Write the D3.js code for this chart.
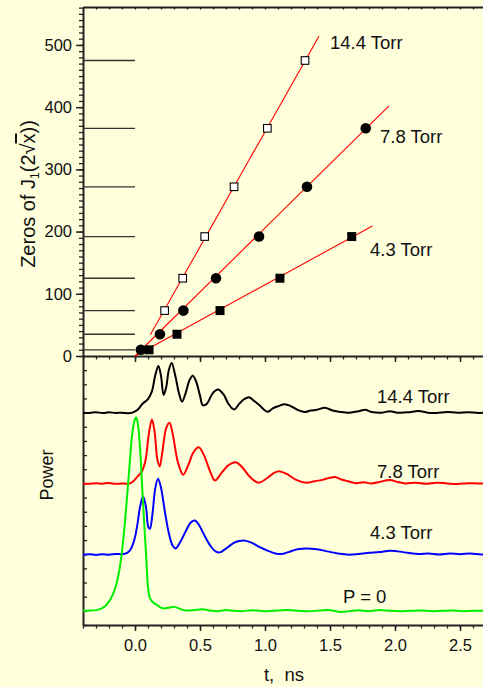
<!DOCTYPE html>
<html>
<head>
<meta charset="utf-8">
<script src="https://cdn.jsdelivr.net/npm/d3@7"></script>
<style>
  html, body { margin: 0; padding: 0; background: #ffffdc; }
  svg { display: block; font-family: "Liberation Sans", Arial, sans-serif; }
  .axis path, .axis line { stroke: #222; }
  .axis text { fill: #111; font-size: 16.5px; font-family: "Liberation Sans", Arial, sans-serif; }
</style>
</head>
<body>
<svg id="chart" width="483" height="687"></svg>
<script>
// ---- Upper panel: zeros of J1(2*sqrt(x)) versus time of the power maxima ----
const besselZeros = [10, 35, 73, 125, 192, 272, 366, 475];
const zeroTicks = [0, 100, 200, 300, 400, 500];

// time of each maximum (ns) paired with the zero index value
const peaks144 = [[0.228, 73], [0.367, 125], [0.536, 192], [0.762, 272], [1.018, 366], [1.308, 475]];
const peaks78 = [[0.045, 10], [0.192, 35], [0.372, 73], [0.623, 125], [0.954, 192], [1.323, 272], [1.775, 366]];
const peaks43 = [[0.108, 10], [0.323, 35], [0.654, 73], [1.115, 125], [1.667, 192]];

// straight-line fits through each pressure's maxima: [start, end]
const fit144 = [[0.118, 34], [1.415, 514]];
const fit78 = [[0.0, 0], [1.954, 402]];
const fit43 = [[0.0, 0], [1.826, 209]];

const upperLabels = ["14.4 Torr", "7.8 Torr", "4.3 Torr"];

// ---- Lower panel: transmitted power traces (arbitrary units, offset) ----
const timeTicks = [0, 0.5, 1.0, 1.5, 2.0, 2.5];

const power144 = [
  [-0.40, 15.0], [-0.35, 14.98], [-0.30, 15.03], [-0.25, 14.97], [-0.20, 15.02], [-0.15, 14.98],
  [-0.10, 15.0], [-0.05, 14.96], [-0.02, 15.0], [0.02, 15.2], [0.06, 15.65], [0.10, 15.95],
  [0.13, 16.5], [0.155, 17.6], [0.18, 18.3], [0.20, 17.6], [0.22, 16.25], [0.24, 16.8],
  [0.26, 18.0], [0.282, 18.5], [0.31, 17.6], [0.34, 16.3], [0.362, 15.77], [0.39, 16.4],
  [0.42, 17.3], [0.444, 17.6], [0.47, 17.2], [0.50, 16.2], [0.521, 15.53], [0.55, 15.6],
  [0.60, 16.4], [0.638, 16.64], [0.68, 16.3], [0.72, 15.6], [0.762, 15.22], [0.80, 15.6],
  [0.84, 15.95], [0.877, 16.08], [0.92, 15.8], [0.96, 15.5], [1.0, 15.15], [1.023, 15.06],
  [1.06, 15.3], [1.10, 15.45], [1.152, 15.6], [1.20, 15.45], [1.25, 15.2], [1.305, 15.04],
  [1.35, 15.15], [1.40, 15.2], [1.46, 15.34], [1.52, 15.15], [1.58, 15.05], [1.65, 15.0],
  [1.72, 15.1], [1.77, 15.2], [1.82, 15.05], [1.90, 15.0], [1.96, 15.1], [2.02, 15.0],
  [2.10, 15.02], [2.18, 15.12], [2.25, 15.0], [2.32, 14.98], [2.40, 15.05], [2.48, 15.0],
  [2.56, 15.03], [2.64, 14.98], [2.70, 15.0]
];

const power78 = [
  [-0.40, 10.0], [-0.35, 9.97], [-0.30, 10.02], [-0.25, 9.98], [-0.20, 10.03], [-0.15, 9.97],
  [-0.10, 10.0], [-0.05, 9.98], [-0.02, 10.1], [0.02, 10.5], [0.05, 10.8], [0.08, 11.6],
  [0.105, 13.4], [0.13, 14.52], [0.15, 13.7], [0.172, 11.7], [0.19, 11.2], [0.21, 12.2],
  [0.24, 13.9], [0.265, 14.28], [0.29, 13.5], [0.33, 11.5], [0.37, 10.62], [0.41, 11.3],
  [0.45, 12.2], [0.49, 12.55], [0.53, 12.0], [0.58, 10.8], [0.615, 10.21], [0.67, 10.8],
  [0.72, 11.3], [0.773, 11.5], [0.82, 11.2], [0.88, 10.5], [0.95, 10.05], [1.02, 10.4],
  [1.07, 10.75], [1.115, 10.85], [1.17, 10.65], [1.24, 10.25], [1.318, 10.05], [1.38, 10.15],
  [1.44, 10.25], [1.50, 10.4], [1.536, 10.45], [1.58, 10.3], [1.64, 10.15], [1.70, 10.02],
  [1.76, 10.08], [1.82, 10.0], [1.88, 10.1], [1.96, 10.25], [2.02, 10.1], [2.08, 10.0],
  [2.16, 10.05], [2.24, 9.98], [2.32, 10.05], [2.40, 10.0], [2.48, 9.96], [2.56, 10.02],
  [2.64, 10.0], [2.70, 10.0]
];

const power43 = [
  [-0.40, 4.97], [-0.35, 5.0], [-0.30, 4.95], [-0.25, 5.0], [-0.20, 4.97], [-0.15, 5.02],
  [-0.10, 5.0], [-0.06, 5.1], [-0.04, 5.25], [-0.02, 5.6], [0.0, 6.2], [0.02, 7.2],
  [0.04, 8.4], [0.062, 9.08], [0.085, 8.3], [0.103, 6.9], [0.115, 6.8], [0.135, 7.9],
  [0.155, 9.6], [0.177, 10.33], [0.20, 9.7], [0.23, 8.0], [0.26, 6.5], [0.29, 5.6],
  [0.313, 5.41], [0.35, 5.9], [0.40, 6.8], [0.43, 7.25], [0.459, 7.38], [0.49, 7.1],
  [0.53, 6.4], [0.58, 5.6], [0.62, 5.2], [0.652, 5.13], [0.70, 5.4], [0.76, 5.8],
  [0.80, 5.93], [0.844, 5.96], [0.90, 5.8], [0.96, 5.5], [1.02, 5.25], [1.08, 5.05],
  [1.126, 5.01], [1.18, 5.15], [1.25, 5.35], [1.318, 5.41], [1.40, 5.35], [1.48, 5.2],
  [1.56, 5.05], [1.65, 4.97], [1.72, 5.02], [1.80, 5.1], [1.88, 5.15], [1.96, 5.25],
  [2.02, 5.2], [2.10, 5.1], [2.18, 5.02], [2.26, 5.05], [2.34, 4.98], [2.42, 5.05],
  [2.50, 5.0], [2.58, 5.05], [2.66, 4.98], [2.70, 5.0]
];

const power0 = [
  [-0.40, 1.0], [-0.35, 1.02], [-0.30, 1.05], [-0.26, 1.15], [-0.223, 1.4], [-0.19, 1.8],
  [-0.16, 2.4], [-0.14, 3.0], [-0.12, 3.9], [-0.10, 5.2], [-0.08, 7.0], [-0.06, 9.2],
  [-0.04, 11.5], [-0.02, 13.6], [0.0, 14.55], [0.01, 14.66], [0.025, 14.0], [0.04, 12.3],
  [0.055, 9.8], [0.07, 7.3], [0.085, 5.0], [0.10, 2.7], [0.115, 1.9], [0.136, 1.62],
  [0.17, 1.4], [0.213, 1.18], [0.26, 1.22], [0.303, 1.28], [0.35, 1.12], [0.39, 1.03],
  [0.45, 1.05], [0.52, 1.12], [0.58, 1.02], [0.64, 0.98], [0.70, 1.06], [0.76, 1.0],
  [0.83, 0.98], [0.90, 1.05], [0.96, 1.0], [1.02, 0.97], [1.10, 1.02], [1.18, 1.06],
  [1.26, 1.0], [1.34, 0.97], [1.42, 1.02], [1.50, 1.05], [1.58, 0.92], [1.65, 0.98],
  [1.72, 1.04], [1.80, 0.98], [1.88, 1.06], [1.96, 1.0], [2.04, 0.97], [2.12, 1.0],
  [2.20, 1.02], [2.28, 0.98], [2.36, 1.0], [2.44, 1.02], [2.52, 0.98], [2.60, 1.0], [2.70, 1.0]
];

const lowerLabels = ["14.4 Torr", "7.8 Torr", "4.3 Torr", "P = 0"];

// ---- drawing ----
const svg = d3.select("#chart");
svg.append("rect").attr("width", 483).attr("height", 687).attr("fill", "#ffffdc");

const left = 83, topY = 7, midY = 356, bottomY = 625;

const x = d3.scaleLinear().domain([-0.4, 2.7]).range([left, left + 3.1 * 130]);
const yTop = d3.scaleLinear().domain([0, 561]).range([midY, topY]);
const yP = d3.scaleLinear().domain([0, 19]).range([bottomY, midY]);

const minorT = d3.range(-4, 28).map(i => i / 10);
const minorZ = d3.range(0, 57).map(i => i * 10);
const minorP = d3.range(0, 19);

// upper panel: left axis, minor then major ticks
svg.append("g").attr("class", "axis").attr("transform", `translate(${left},0)`)
  .call(d3.axisLeft(yTop).tickValues(minorZ).tickSize(4).tickSizeOuter(0).tickFormat(""))
  .call(g => g.selectAll("line").attr("stroke-width", 1.3))
  .call(g => g.select(".domain").attr("stroke-width", 2));
svg.append("g").attr("class", "axis").attr("transform", `translate(${left},0)`)
  .call(d3.axisLeft(yTop).tickValues(zeroTicks).tickSize(7).tickPadding(4).tickSizeOuter(0))
  .call(g => g.selectAll("line").attr("stroke-width", 1.5))
  .call(g => g.select(".domain").remove());

// top frame with small ticks
svg.append("g").attr("class", "axis").attr("transform", `translate(0,${topY})`)
  .call(d3.axisTop(x).tickValues(minorT).tickSize(-2.5).tickSizeOuter(0).tickFormat(""))
  .call(g => g.selectAll("line").attr("stroke-width", 1.3))
  .call(g => g.select(".domain").attr("stroke-width", 2));

// shared boundary between panels
svg.append("g").attr("class", "axis").attr("transform", `translate(0,${midY})`)
  .call(d3.axisBottom(x).tickValues(minorT).tickSize(3.5).tickSizeOuter(0).tickFormat(""))
  .call(g => g.selectAll("line").attr("stroke-width", 1.3))
  .call(g => g.select(".domain").attr("stroke-width", 2));
svg.append("g").attr("class", "axis").attr("transform", `translate(0,${midY})`)
  .call(d3.axisBottom(x).tickValues(timeTicks).tickSize(6).tickSizeOuter(0).tickFormat(""))
  .call(g => g.selectAll("line").attr("stroke-width", 1.5))
  .call(g => g.select(".domain").remove());

// lower panel: left axis with inward ticks
svg.append("g").attr("class", "axis").attr("transform", `translate(${left},0)`)
  .call(d3.axisRight(yP).tickValues(minorP).tickSize(4).tickSizeOuter(0).tickFormat(""))
  .call(g => g.selectAll("line").attr("stroke-width", 1.3))
  .call(g => g.select(".domain").attr("stroke-width", 2));

// lower panel: time axis
svg.append("g").attr("class", "axis").attr("transform", `translate(0,${bottomY})`)
  .call(d3.axisBottom(x).tickValues(minorT).tickSize(3.5).tickSizeOuter(0).tickFormat(""))
  .call(g => g.selectAll("line").attr("stroke-width", 1.3))
  .call(g => g.select(".domain").attr("stroke-width", 2));
svg.append("g").attr("class", "axis").attr("transform", `translate(0,${bottomY})`)
  .call(d3.axisBottom(x).tickValues(timeTicks).tickSize(6).tickPadding(8).tickSizeOuter(0)
    .tickFormat(d3.format(".1f")))
  .call(g => g.selectAll("line").attr("stroke-width", 1.5))
  .call(g => g.select(".domain").remove());

// reference levels at the Bessel zeros
svg.append("g").selectAll("line").data(besselZeros).join("line")
  .attr("x1", x(-0.4)).attr("x2", x(0))
  .attr("y1", d => yTop(d)).attr("y2", d => yTop(d))
  .attr("stroke", "#333").attr("stroke-width", 1.3);

// fitted lines
const fitLine = d3.line().x(d => x(d[0])).y(d => yTop(d[1]));
[fit144, fit78, fit43].forEach(f => {
  svg.append("path").attr("d", fitLine(f)).attr("fill", "none")
    .attr("stroke", "#ff0000").attr("stroke-width", 1.1);
});

// markers
svg.append("g").selectAll("rect").data(peaks43).join("rect")
  .attr("x", d => x(d[0]) - 4.5).attr("y", d => yTop(d[1]) - 4.5)
  .attr("width", 9).attr("height", 9).attr("fill", "#000");
svg.append("g").selectAll("circle").data(peaks78).join("circle")
  .attr("cx", d => x(d[0])).attr("cy", d => yTop(d[1])).attr("r", 5.3).attr("fill", "#000");
svg.append("g").selectAll("rect").data(peaks144).join("rect")
  .attr("x", d => x(d[0]) - 3.8).attr("y", d => yTop(d[1]) - 3.8)
  .attr("width", 7.6).attr("height", 7.6).attr("fill", "#ffffff")
  .attr("stroke", "#000").attr("stroke-width", 1.1);

// upper labels
const upperPos = [[330, 49], [380, 143], [370, 256]];
upperLabels.forEach((t, i) => {
  svg.append("text").attr("x", upperPos[i][0]).attr("y", upperPos[i][1])
    .attr("font-size", 18.5).attr("fill", "#111").text(t);
});

// power traces
const trace = d3.line().x(d => x(d[0])).y(d => yP(d[1])).curve(d3.curveCatmullRom.alpha(0.5));
svg.append("defs").append("clipPath").attr("id", "lowerClip")
  .append("rect").attr("x", left).attr("y", midY).attr("width", 483 - left).attr("height", bottomY - midY);
const traces = svg.append("g").attr("clip-path", "url(#lowerClip)");
[[power144, "#000000"], [power78, "#ff0000"], [power43, "#0000ff"], [power0, "#00ee00"]].forEach(([d, c]) => {
  traces.append("path").attr("d", trace(d)).attr("fill", "none")
    .attr("stroke", c).attr("stroke-width", 2).attr("stroke-linejoin", "round");
});

// lower labels
const lowerPos = [[377, 403], [377, 478], [370, 539], [343, 603]];
lowerLabels.forEach((t, i) => {
  svg.append("text").attr("x", lowerPos[i][0]).attr("y", lowerPos[i][1])
    .attr("font-size", 18.5).attr("fill", "#111").text(t);
});

// axis titles
svg.append("text").attr("x", 284).attr("y", 681).attr("text-anchor", "middle")
  .attr("font-size", 18.5).attr("fill", "#111").attr("xml:space", "preserve").text("t,  ns");

svg.append("text").attr("transform", "translate(53,475) rotate(-90)").attr("text-anchor", "middle")
  .attr("font-size", 18).attr("fill", "#111").text("Power");

const yt = svg.append("text").attr("transform", "translate(35,194) rotate(-90)")
  .attr("text-anchor", "middle").attr("font-size", 20).attr("fill", "#111");
yt.append("tspan").text("Zeros of J");
yt.append("tspan").attr("font-size", 12).attr("dy", 4).text("1");
yt.append("tspan").attr("dy", -4).text("(2√");
yt.append("tspan").style("text-decoration", "overline").text("x");
yt.append("tspan").text("))");
</script>
</body>
</html>
